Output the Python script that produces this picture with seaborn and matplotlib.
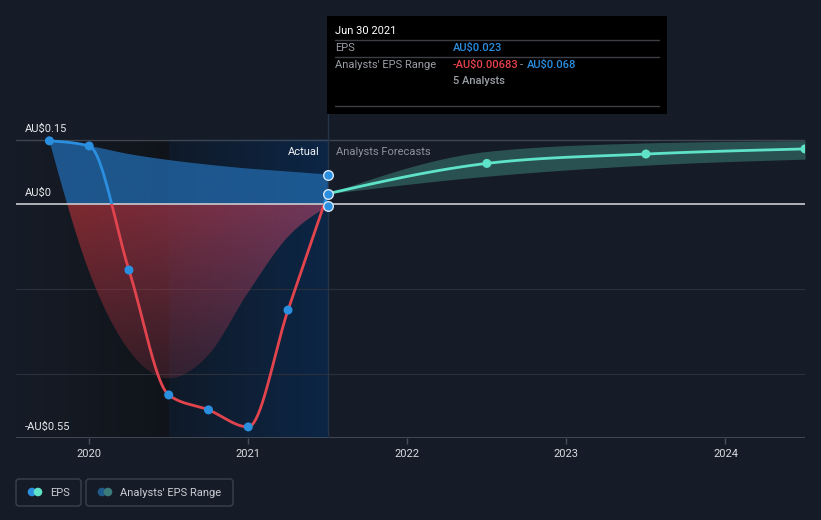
import numpy as np
import seaborn as sns
import matplotlib.pyplot as plt
from matplotlib.patches import Rectangle, FancyBboxPatch, Circle, PathPatch
from matplotlib.colors import to_rgb

# quarter ends as decimal years
hist_x = [2019.75, 2020.0, 2020.25, 2020.5, 2020.75, 2021.0, 2021.25, 2021.5]
hist_eps = [0.147, 0.135, -0.156, -0.449, -0.484, -0.524, -0.250, 0.023]
hist_low = [0.147, -0.160, -0.344, -0.410, -0.355, -0.208, -0.078, -0.00683]
hist_high = [0.147, 0.135, 0.116, 0.102, 0.091, 0.082, 0.075, 0.068]

fc_x = [2021.5, 2022.5, 2023.5, 2024.5]
fc_eps = [0.023, 0.094, 0.116, 0.128]
fc_low = [0.023, 0.064, 0.090, 0.104]
fc_high = [0.023, 0.122, 0.142, 0.147]

year_ticks = [2020, 2021, 2022, 2023, 2024]
label_vals = [0.15, 0.0, -0.55]
label_text = ['AU$0.15', 'AU$0', '-AU$0.55']
grid_vals = [-0.2, -0.4]

BG = '#161c27'
BLUE = '#2b8fe0'
RED = '#e2444e'
TEAL = '#5fe3c8'


def monotone(x, y, n=40):
    # d3-style monotone cubic, only used to draw the curve between the points
    x = np.asarray(x, float)
    y = np.asarray(y, float)
    h = np.diff(x)
    d = np.diff(y) / h
    m = np.zeros_like(y)
    for i in range(1, len(y) - 1):
        if d[i - 1] * d[i] <= 0:
            m[i] = 0
        else:
            p = (d[i - 1] * h[i] + d[i] * h[i - 1]) / (h[i - 1] + h[i])
            m[i] = (np.sign(d[i - 1]) + np.sign(d[i])) * min(abs(d[i - 1]), abs(d[i]), 0.5 * abs(p))
    m[0] = (3 * d[0] - m[1]) / 2 if len(y) > 2 else d[0]
    m[-1] = (3 * d[-1] - m[-2]) / 2 if len(y) > 2 else d[-1]
    xs, ys = [], []
    for i in range(len(h)):
        t = np.linspace(0, 1, n, endpoint=(i == len(h) - 1))
        h00 = 2 * t**3 - 3 * t**2 + 1
        h10 = t**3 - 2 * t**2 + t
        h01 = -2 * t**3 + 3 * t**2
        h11 = t**3 - t**2
        xs.append(x[i] + t * h[i])
        ys.append(h00 * y[i] + h10 * h[i] * m[i] + h01 * y[i + 1] + h11 * h[i] * m[i + 1])
    return np.concatenate(xs), np.concatenate(ys)


sns.set_style('dark')
plt.rcParams['font.family'] = ['Roboto', 'DejaVu Sans']

fig = plt.figure(figsize=(8.21, 5.2), dpi=100, facecolor=BG)
ax = fig.add_axes([16 / 821, (520 - 438) / 520, 789 / 821, (438 - 110) / 520])
ax.set_facecolor(BG)
x0, x1 = 2019.54, 2024.5
y0, y1 = -0.55, 0.2193

# background shading: darker past, highlighted last year
g = np.linspace(0, 1, 200)
c_a, c_b = np.array(to_rgb(BG)), np.array(to_rgb('#10141a'))
img = (c_a[None, :] * (1 - g[:, None]) + c_b[None, :] * g[:, None])[None, :, :]
ax.imshow(img, extent=[x0, 2020.5, y0, 0.15], aspect='auto', zorder=0)
c_a, c_b = np.array(to_rgb('#101a28')), np.array(to_rgb('#0c2646'))
img = (c_a[None, :] * (1 - g[:, None]) + c_b[None, :] * g[:, None])[None, :, :]
ax.imshow(img, extent=[2020.5, 2021.5, y0, 0.15], aspect='auto', zorder=0)

# grid lines
ax.axhline(0.15, color='#3f4551', lw=1, zorder=1)
for v in grid_vals:
    ax.axhline(v, color='#2b313c', lw=0.8, zorder=1)
ax.axhline(-0.55, color='#4a505b', lw=1.2, zorder=1)
ax.axvline(2021.5, color='#23344b', lw=1, zorder=1)

# analysts' range (history) with gradient fill
bx, blo = monotone(hist_x, hist_low)
_, bhi = monotone(hist_x, hist_high)
band = ax.fill_between(bx, blo, bhi, color='none', lw=0)
clip = PathPatch(band.get_paths()[0], transform=ax.transData, fc='none', ec='none')
ax.add_patch(clip)
ny, nx = 300, 300
gy = np.linspace(-0.42, 0.16, ny)[:, None]
gx = np.linspace(0, 1, nx)[None, :]
rgba = np.zeros((ny, nx, 4))
red_l, red_r = np.array(to_rgb('#9a2c30')), np.array(to_rgb('#8a3d62'))
blue_c = np.array(to_rgb('#2062a0'))
for k in range(3):
    rgba[:, :, k] = np.where(gy >= 0, blue_c[k], red_l[k] * (1 - gx) + red_r[k] * gx)
rgba[:, :, 3] = np.where(gy >= 0, 0.85, 0.8 - 0.55 * np.clip(-gy / 0.42, 0, 1))
im = ax.imshow(rgba, extent=[hist_x[0], hist_x[-1], -0.42, 0.16], origin='lower',
               aspect='auto', zorder=2, interpolation='bilinear')
im.set_clip_path(clip)

# analysts' range (forecast)
fx, flo = monotone(fc_x, fc_low)
_, fhi = monotone(fc_x, fc_high)
ax.fill_between(fx, flo, fhi, color=TEAL, alpha=0.27, lw=0, zorder=2)

ax.axhline(0, color='#c9ccd2', lw=1.2, zorder=3)

# EPS history line: blue above zero, red below
hx, hy = monotone(hist_x, hist_eps)
sns.lineplot(x=hx, y=hy, ax=ax, color=BLUE, lw=2, sort=False, estimator=None, zorder=4)
ax.lines[-1].set_clip_path(Rectangle((x0, 0), x1 - x0, 1, transform=ax.transData))
sns.lineplot(x=hx, y=hy, ax=ax, color=RED, lw=2, sort=False, estimator=None, zorder=4)
ax.lines[-1].set_clip_path(Rectangle((x0, -1), x1 - x0, 1, transform=ax.transData))

# forecast EPS line
ex, ey = monotone(fc_x, fc_eps)
sns.lineplot(x=ex, y=ey, ax=ax, color=TEAL, lw=2, sort=False, estimator=None, zorder=4)

sns.scatterplot(x=hist_x[:-1], y=hist_eps[:-1], ax=ax, color=BLUE, s=42, edgecolor='none', zorder=5)
sns.scatterplot(x=fc_x[1:], y=fc_eps[1:], ax=ax, color=TEAL, s=42, edgecolor='none', zorder=5)
sns.scatterplot(x=[hist_x[-1]] * 3, y=[hist_high[-1], hist_eps[-1], hist_low[-1]], ax=ax,
                color=BLUE, s=48, edgecolor='#d6e6f5', linewidth=1, zorder=6)

for v, t in zip(label_vals, label_text):
    ax.annotate(t, xy=(x0, v), xytext=(9, 8), textcoords='offset pixels',
                color='#e6e8eb', fontsize=8, va='baseline', ha='left', zorder=7)

ax.text(2021.45, 0.121, 'Actual', color='#f0f2f4', fontsize=8, ha='right', va='center', zorder=7)
ax.text(2021.55, 0.121, 'Analysts Forecasts', color='#8d929b', fontsize=8, ha='left', va='center', zorder=7)

ax.set_xlim(x0, x1)
ax.set_ylim(y0, y1)
ax.set_xticks(year_ticks)
ax.set_xticklabels([str(y) for y in year_ticks])
ax.set_yticks([])
ax.tick_params(axis='x', colors='#4a505b', labelcolor='#d9dce0', labelsize=8,
               length=4, width=1, pad=4, bottom=True)
ax.grid(False)
for s in ax.spines.values():
    s.set_visible(False)
ax.set_xlabel('')
ax.set_ylabel('')

# overlay in pixel coordinates for tooltip and legend
ov = fig.add_axes([0, 0, 1, 1])
ov.set_xlim(0, 821)
ov.set_ylim(520, 0)
ov.axis('off')
ov.patch.set_alpha(0)

ov.add_patch(Rectangle((327, 16), 340, 98, fc='#000000', ec='none'))
for yy in [40, 57, 106]:
    ov.plot([335, 659], [yy, yy], color='#3d3f44', lw=1)
ov.text(335, 31, 'Jun 30 2021', color='#ffffff', fontsize=8, va='center')
ov.text(335, 48, 'EPS', color='#9a9ea5', fontsize=8, va='center')
ov.text(453, 48, 'AU$0.023', color=BLUE, fontsize=8, va='center', fontweight='medium')
ov.text(335, 65, "Analysts' EPS Range", color='#9a9ea5', fontsize=8, va='center')
ov.text(453, 65, '-AU$0.00683', color='#e8424a', fontsize=8, va='center', fontweight='medium')
ov.text(520, 65, '-', color='#9a9ea5', fontsize=8, va='center')
ov.text(527, 65, 'AU$0.068', color=BLUE, fontsize=8, va='center', fontweight='medium')
ov.text(453, 81, '5 Analysts', color='#9a9ea5', fontsize=8, va='center', fontweight='medium')

# legend
ov.add_patch(FancyBboxPatch((16, 479), 65, 27, boxstyle='round,pad=0,rounding_size=3',
                            fc='none', ec='#3b414d', lw=1))
ov.add_patch(FancyBboxPatch((86, 479), 147, 27, boxstyle='round,pad=0,rounding_size=3',
                            fc='none', ec='#3b414d', lw=1))
ov.add_patch(Circle((32, 492), 4.3, fc=BLUE, ec='none'))
ov.add_patch(Circle((38, 492), 4.3, fc=TEAL, ec='none'))
ov.add_patch(Circle((102, 492), 4.3, fc='#1f5a8a', ec='none'))
ov.add_patch(Circle((108, 492), 4.3, fc='#3b7c7a', ec='none'))
ov.text(50, 492.5, 'EPS', color='#c9cdd3', fontsize=8, va='center')
ov.text(120, 492.5, "Analysts' EPS Range", color='#c9cdd3', fontsize=8, va='center')

fig.savefig('out.png', dpi=100, facecolor=BG)
